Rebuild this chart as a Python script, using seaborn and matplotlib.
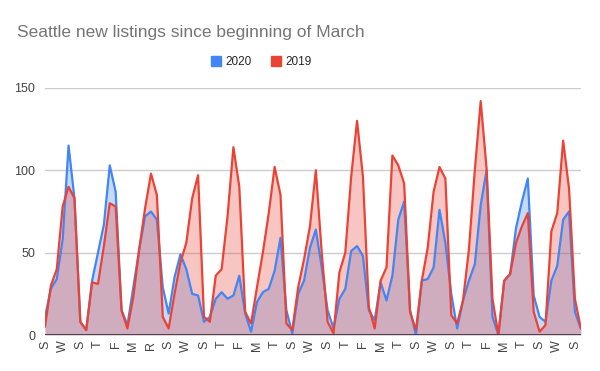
import matplotlib
matplotlib.use("Agg")
import matplotlib.pyplot as plt
from matplotlib.lines import Line2D
import numpy as np
import pandas as pd
import seaborn as sns

# daily new listings, day 0 = Sunday Mar 1
listings_2020 = [11, 28, 34, 58, 115, 83, 8, 3, 33, 50, 67, 103, 87, 15, 6, 29,
                 52, 72, 75, 70, 29, 13, 35, 49, 40, 25, 24, 8, 11, 22, 26, 22,
                 24, 36, 13, 2, 20, 26, 28, 39, 59, 15, 1, 25, 33, 53, 64, 41,
                 15, 4, 22, 28, 51, 54, 48, 15, 9, 32, 21, 36, 70, 81, 15, 0,
                 33, 34, 41, 76, 56, 25, 4, 21, 33, 43, 79, 100, 11, 0, 33, 37,
                 65, 81, 95, 24, 11, 8, 33, 42, 70, 75, 14, 4]
listings_2019 = [5, 30, 40, 78, 90, 83, 8, 3, 32, 31, 54, 80, 78, 15, 4, 23,
                 52, 77, 98, 85, 11, 4, 25, 44, 56, 83, 97, 11, 8, 36, 40, 72,
                 114, 90, 14, 7, 29, 50, 74, 102, 85, 7, 3, 29, 46, 66, 100, 50,
                 8, 1, 38, 50, 96, 130, 96, 17, 4, 33, 41, 109, 103, 92, 14, 3,
                 33, 53, 87, 102, 95, 12, 7, 21, 52, 100, 142, 101, 22, 0, 33, 37,
                 56, 66, 74, 14, 2, 6, 63, 74, 118, 89, 22, 4]
tick_days = list(range(0, 91, 3))
tick_labels = ['S', 'W', 'S', 'T', 'F', 'M', 'R', 'S', 'W', 'S', 'T', 'F', 'M', 'T', 'S', 'W',
               'S', 'T', 'F', 'M', 'T', 'S', 'W', 'S', 'T', 'F', 'M', 'T', 'S', 'W', 'S']

blue = '#4285F4'
red = '#EA4335'

days = np.arange(len(listings_2020))
df = pd.DataFrame({
    'day': np.concatenate([days, days]),
    'listings': listings_2020 + listings_2019,
    'year': ['2020'] * len(days) + ['2019'] * len(days),
})

sns.set_style('white')
plt.rcParams['font.family'] = ['Liberation Sans', 'DejaVu Sans']

fig = plt.figure(figsize=(6, 3.71), dpi=100)
ax = fig.add_axes([0.075, 0.097, 0.893, 0.666])

ax.fill_between(days, listings_2020, color=blue, alpha=0.3, lw=0)
ax.fill_between(days, listings_2019, color=red, alpha=0.3, lw=0)
sns.lineplot(data=df, x='day', y='listings', hue='year', hue_order=['2020', '2019'],
             palette={'2020': blue, '2019': red}, linewidth=1.6, legend=False, ax=ax)

ax.set_xlim(0, len(days) - 1)
ax.set_ylim(0, 150)
ax.set_yticks([0, 50, 100, 150])
ax.set_xticks(tick_days)
ax.set_xticklabels(tick_labels, rotation=90)
ax.tick_params(axis='both', length=0, labelsize=9, colors='#444444')
ax.tick_params(axis='x', pad=4)
ax.tick_params(axis='y', pad=7)
ax.set_xlabel('')
ax.set_ylabel('')
ax.grid(axis='y', color='#cccccc', lw=1)
ax.axhline(0, color='#333333', lw=1.2)
for s in ax.spines.values():
    s.set_visible(False)

fig.text(0.028, 0.9, 'Seattle new listings since beginning of March',
         fontsize=12.5, color='#757575')

handles = [Line2D([], [], marker='s', ls='', color=blue, markersize=7),
           Line2D([], [], marker='s', ls='', color=red, markersize=7)]
fig.legend(handles, ['2020', '2019'], loc='center', bbox_to_anchor=(0.435, 0.833),
           ncol=2, frameon=False, fontsize=8.5, handletextpad=0.3, columnspacing=1.6,
           handlelength=1)

fig.savefig('out.png', dpi=100)
